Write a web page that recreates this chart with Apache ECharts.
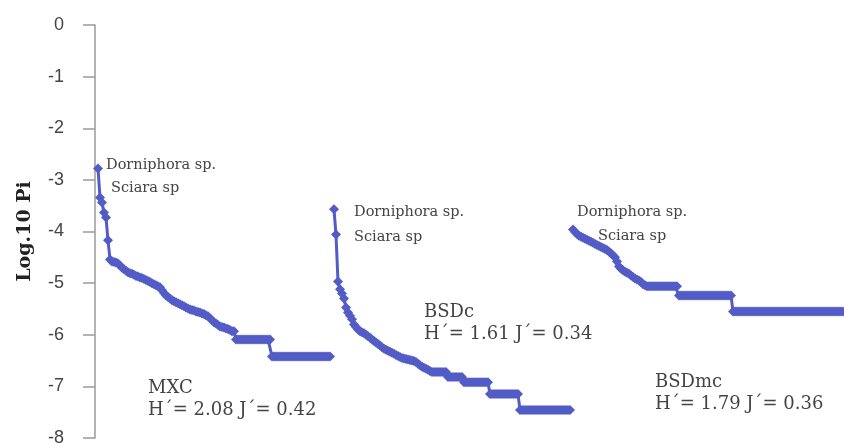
<!DOCTYPE html>
<html>
<head>
<meta charset="utf-8">
<script src="https://cdn.jsdelivr.net/npm/echarts@6/dist/echarts.min.js"></script>
<style>
html,body{margin:0;padding:0;background:#fff;}
#chart{width:844px;height:447px;}
</style>
</head>
<body>
<div id="chart"></div>
<script>
// ---- data (log10 Pi by species rank) ----
const yTicks = [0, -1, -2, -3, -4, -5, -6, -7, -8];
const sampleNames = ['MXC', 'BSDc', 'BSDmc'];
const sampleIndices = ['H\u00B4= 2.08 J\u00B4= 0.42', 'H\u00B4= 1.61 J\u00B4= 0.34', 'H\u00B4= 1.79 J\u00B4= 0.36'];
const topSpecies = ['Dorniphora sp.', 'Sciara sp'];
const rankStart = [1.5, 119.5, 239];

const mxc = [
  -2.78, -3.34, -3.44, -3.63, -3.73, -4.17, -4.54, -4.58, -4.59, -4.60,
  -4.62, -4.66, -4.70, -4.73, -4.76, -4.79, -4.81, -4.82, -4.84, -4.86,
  -4.87, -4.89, -4.90, -4.92, -4.94, -4.96, -4.98, -5.00, -5.02, -5.04,
  -5.06, -5.08, -5.14, -5.19, -5.24, -5.27, -5.30, -5.33, -5.35, -5.37,
  -5.39, -5.41, -5.43, -5.45, -5.47, -5.49, -5.51, -5.52, -5.53, -5.55,
  -5.56, -5.57, -5.59, -5.60, -5.62, -5.64, -5.68, -5.72, -5.76, -5.78,
  -5.81, -5.84, -5.85, -5.86, -5.88, -5.89, -5.91, -5.93, -5.93,
  -6.09, -6.09, -6.09, -6.09, -6.09, -6.09, -6.09, -6.09, -6.09,
  -6.09, -6.09, -6.09, -6.09, -6.09, -6.09, -6.09, -6.09, -6.09,
  -6.42, -6.42, -6.42, -6.42, -6.42, -6.42, -6.42, -6.42, -6.42, -6.42,
  -6.42, -6.42, -6.42, -6.42, -6.42, -6.42, -6.42, -6.42, -6.42, -6.42,
  -6.42, -6.42, -6.42, -6.42, -6.42, -6.42, -6.42, -6.42, -6.42, -6.42
];

const bsdc = [
  -3.57, -4.06, -4.97, -5.12, -5.20, -5.30, -5.47, -5.57, -5.63, -5.70,
  -5.80, -5.85, -5.90, -5.93, -5.95, -5.97, -6.00, -6.03, -6.06, -6.09,
  -6.12, -6.15, -6.18, -6.21, -6.24, -6.27, -6.29, -6.31, -6.33, -6.35,
  -6.37, -6.39, -6.41, -6.43, -6.45, -6.46, -6.47, -6.48, -6.49, -6.50,
  -6.51, -6.53, -6.56, -6.59, -6.62, -6.64, -6.66, -6.68, -6.70, -6.72,
  -6.72, -6.72, -6.72, -6.72, -6.72, -6.72, -6.72,
  -6.82, -6.82, -6.82, -6.82, -6.82, -6.82, -6.82, -6.82,
  -6.92, -6.92, -6.92, -6.92, -6.92, -6.92, -6.92, -6.92, -6.92, -6.92, -6.92, -6.92, -6.92,
  -7.15, -7.15, -7.15, -7.15, -7.15, -7.15, -7.15, -7.15, -7.15, -7.15, -7.15, -7.15, -7.15, -7.15, -7.15,
  -7.46, -7.46, -7.46, -7.46, -7.46, -7.46, -7.46, -7.46, -7.46, -7.46, -7.46, -7.46, -7.46,
  -7.46, -7.46, -7.46, -7.46, -7.46, -7.46, -7.46, -7.46, -7.46, -7.46, -7.46, -7.46, -7.46
];

const bsdmc = [
  -3.96, -4.01, -4.05, -4.08, -4.10, -4.12, -4.14, -4.16, -4.18, -4.20,
  -4.22, -4.24, -4.26, -4.28, -4.30, -4.32, -4.34, -4.36, -4.39, -4.42,
  -4.46, -4.50, -4.58, -4.68, -4.72, -4.75, -4.78, -4.80, -4.82, -4.85,
  -4.88, -4.91, -4.93, -4.95, -4.98, -5.02, -5.04,
  -5.06, -5.06, -5.06, -5.06, -5.06, -5.06, -5.06, -5.06, -5.06, -5.06, -5.06, -5.06, -5.06, -5.06, -5.06, -5.06,
  -5.24, -5.24, -5.24, -5.24, -5.24, -5.24, -5.24, -5.24, -5.24, -5.24, -5.24, -5.24, -5.24, -5.24,
  -5.24, -5.24, -5.24, -5.24, -5.24, -5.24, -5.24, -5.24, -5.24, -5.24, -5.24, -5.24, -5.24,
  -5.55, -5.55, -5.55, -5.55, -5.55, -5.55, -5.55, -5.55, -5.55, -5.55, -5.55, -5.55, -5.55, -5.55,
  -5.55, -5.55, -5.55, -5.55, -5.55, -5.55, -5.55, -5.55, -5.55, -5.55, -5.55, -5.55, -5.55, -5.55,
  -5.55, -5.55, -5.55, -5.55, -5.55, -5.55, -5.55, -5.55, -5.55, -5.55, -5.55, -5.55, -5.55, -5.55,
  -5.55, -5.55, -5.55, -5.55, -5.55, -5.55, -5.55, -5.55, -5.55, -5.55, -5.55, -5.55, -5.55, -5.55
];

const allSeries = [mxc, bsdc, bsdmc];

// ---- styling ----
const lineColor = '#535cc6';
const serif = '"DejaVu Serif", "Liberation Serif", serif';
const labelOffsets = [
  [[-2, -3], [1, -9]],
  [[10, 3], [8, 3]],
  [[-6, -17], [13, 4]]
];

function buildData(values, s) {
  return values.map((v, i) => {
    const item = { value: [rankStart[s] + i, v] };
    if (i < 2) {
      item.label = {
        show: true,
        position: 'right',
        formatter: topSpecies[i],
        offset: labelOffsets[s][i],
        fontFamily: serif,
        fontSize: 14.5,
        color: '#444'
      };
    }
    return item;
  });
}

const chart = echarts.init(document.getElementById('chart'), null, { renderer: 'canvas' });

const textPos = [
  { left: 148, top: 377 },
  { left: 424, top: 301 },
  { left: 655, top: 371 }
];

chart.setOption({
  animation: false,
  backgroundColor: '#fff',
  grid: { left: 95, right: 0, top: 25, bottom: 8, containLabel: false },
  xAxis: {
    type: 'value', min: 0, max: 374.5, show: false
  },
  yAxis: {
    type: 'value', min: -8, max: 0, interval: 1,
    name: 'Log.10 Pi',
    nameLocation: 'middle',
    nameGap: 60,
    nameTextStyle: { fontFamily: serif, fontWeight: 'bold', fontSize: 19, color: '#222' },
    axisLine: { show: true, lineStyle: { color: '#9a9a9a', width: 1.5 } },
    axisTick: { show: true, length: 12, lineStyle: { color: '#9a9a9a', width: 1.5 } },
    axisLabel: {
      margin: 31, fontSize: 18, color: '#444',
      fontFamily: '"Liberation Sans", Arial, sans-serif',
      formatter: v => String(v)
    },
    splitLine: { show: false }
  },
  series: allSeries.map((vals, s) => ({
    type: 'line',
    name: sampleNames[s],
    data: buildData(vals, s),
    symbol: 'diamond',
    symbolSize: 10,
    showAllSymbol: true,
    clip: false,
    lineStyle: { color: lineColor, width: 3 },
    itemStyle: { color: lineColor }
  })),
  graphic: sampleNames.map((n, s) => ({
    type: 'text',
    left: textPos[s].left,
    top: textPos[s].top,
    style: {
      text: n + '\n' + sampleIndices[s],
      font: '18px ' + serif,
      fill: '#444',
      lineHeight: 22
    }
  }))
});
</script>
</body>
</html>
